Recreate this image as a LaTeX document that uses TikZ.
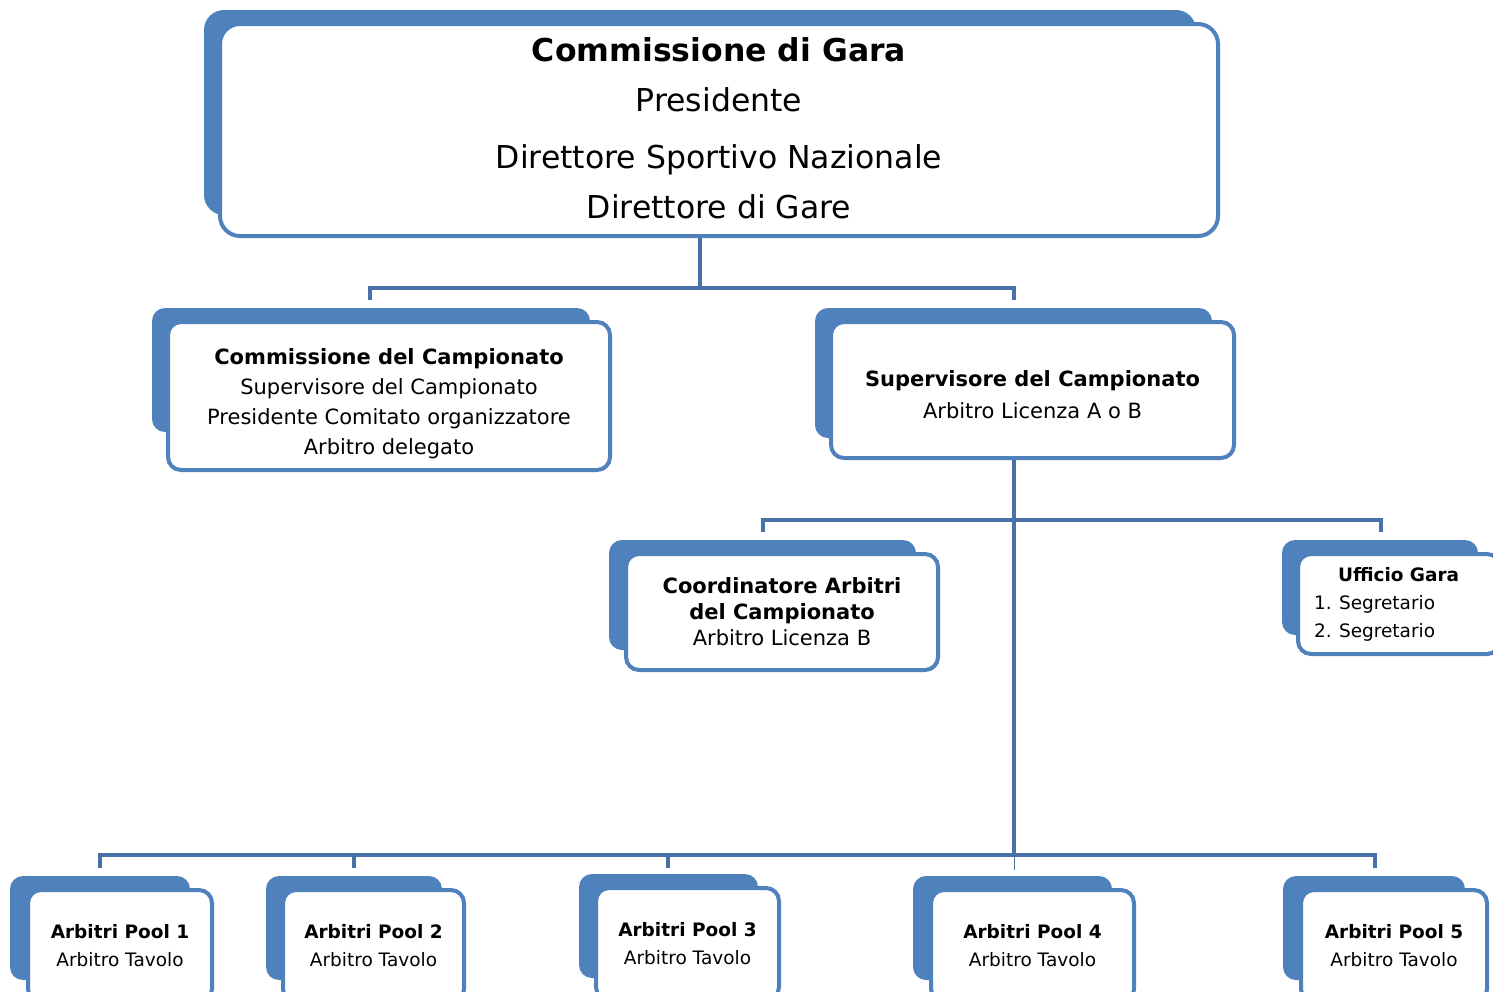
\documentclass[tikz,border=0pt]{standalone}
\usepackage{fontspec}
\setmainfont{DejaVu Sans}
\definecolor{boxblue}{HTML}{4F81BD}
\definecolor{lineblue}{HTML}{4672A8}
\newcommand\bigfont{\fontsize{31.5}{50}\selectfont}
\newcommand\midfont{\fontsize{21}{30}\selectfont}
\newcommand\smallfont{\fontsize{18.5}{28}\selectfont}
\newcommand\backbox[4]{\fill[boxblue, rounded corners=13pt] (#1,#2) rectangle (#3,#4);}
\tikzset{
  frontbox/.style={draw=boxblue, line width=4pt, fill=white, rounded corners=13pt,
    inner sep=0pt, align=center, text=black},
  bigbox/.style={frontbox, rounded corners=20pt},
  conn/.style={draw=lineblue, line width=4.5pt},
  thinconn/.style={draw=lineblue, line width=1pt},
}
\begin{document}
\begin{tikzpicture}[x=1pt,y=-1pt]
\useasboundingbox (0,0) rectangle (1493,991);
\clip (0,0) rectangle (1493,991);
\fill[white] (0,0) rectangle (1493,991);

% connectors
\coordinate (t1) at (700,238);
\coordinate (t2) at (700,288);
\coordinate (tl) at (370,288);
\coordinate (tld) at (370,300);
\coordinate (tr) at (1014,288);
\coordinate (trd) at (1014,300);
\draw[conn] (t1) -- (t2);
\draw[conn] (tld) -- (tl) -- (tr) -- (trd);

\coordinate (s1) at (1014,460);
\coordinate (s2) at (1014,855);
\coordinate (sl) at (763,520);
\coordinate (sld) at (763,532);
\coordinate (sr) at (1381,520);
\coordinate (srd) at (1381,532);
\draw[conn] (s1) -- (s2);
\draw[conn] (sld) -- (sl) -- (sr) -- (srd);

\coordinate (b1) at (100,855);
\coordinate (b1d) at (100,868);
\coordinate (b2) at (354,855);
\coordinate (b2d) at (354,868);
\coordinate (b3) at (668,855);
\coordinate (b3d) at (668,868);
\coordinate (b4d) at (1014,870);
\coordinate (b5) at (1375,855);
\coordinate (b5d) at (1375,868);
\draw[conn] (b1d) -- (b1) -- (b5) -- (b5d);
\draw[conn] (b2) -- (b2d);
\draw[conn] (b3) -- (b3d);
\draw[thinconn] (s2) -- (b4d);

% top box
\fill[boxblue, rounded corners=20pt] (204,10) rectangle (1196,215);
\node[bigbox, minimum width=998pt, minimum height=212pt, font=\bigfont] (top) at (719,130)
  {\textbf{Commissione di Gara}\\Presidente\\[7pt]Direttore Sportivo Nazionale\\Direttore di Gare\rule[-4pt]{0pt}{4pt}};

% second level
\backbox{152}{308}{590}{432}
\node[frontbox, minimum width=442pt, minimum height=148pt, font=\midfont] (comm) at (389,396)
  {\rule{0pt}{32pt}\textbf{Commissione del Campionato}\\Supervisore del Campionato\\Presidente Comitato organizzatore\\Arbitro delegato};

\backbox{815}{308}{1212}{438}
\node[frontbox, minimum width=403pt, minimum height=136pt, font=\fontsize{21}{32}\selectfont] (sup) at (1032.5,390)
  {\rule{0pt}{26pt}\textbf{Supervisore del Campionato}\\Arbitro Licenza A o B};

% third level
\backbox{609}{540}{916}{650}
\node[frontbox, minimum width=312pt, minimum height=116pt, font=\fontsize{21}{26}\selectfont] (coord) at (782,612)
  {\textbf{Coordinatore Arbitri}\\\textbf{del Campionato}\\Arbitro Licenza B};

\backbox{1282}{540}{1478}{635}
\node[frontbox, minimum width=202pt, minimum height=100pt, text width=170pt, align=left, font=\smallfont] (uff) at (1399,604)
  {\hspace*{24pt}\textbf{Ufficio Gara}\\\makebox[25pt][l]{1.}Segretario\\\makebox[25pt][l]{2.}Segretario};

% bottom level
\backbox{10}{876}{190}{980}
\node[frontbox, minimum width=184pt, minimum height=112pt, font=\smallfont] (p1) at (120,946)
  {\textbf{Arbitri Pool 1}\\Arbitro Tavolo};
\backbox{266}{876}{442}{980}
\node[frontbox, minimum width=181pt, minimum height=112pt, font=\smallfont] (p2) at (373.5,946)
  {\textbf{Arbitri Pool 2}\\Arbitro Tavolo};
\backbox{579}{874}{758}{978}
\node[frontbox, minimum width=183pt, minimum height=112pt, font=\smallfont] (p3) at (687.5,944)
  {\textbf{Arbitri Pool 3}\\Arbitro Tavolo};
\backbox{913}{876}{1112}{980}
\node[frontbox, minimum width=203pt, minimum height=112pt, font=\smallfont] (p4) at (1032.5,946)
  {\textbf{Arbitri Pool 4}\\Arbitro Tavolo};
\backbox{1283}{876}{1465}{980}
\node[frontbox, minimum width=186pt, minimum height=112pt, font=\smallfont] (p5) at (1394,946)
  {\textbf{Arbitri Pool 5}\\Arbitro Tavolo};
\end{tikzpicture}
\end{document}
